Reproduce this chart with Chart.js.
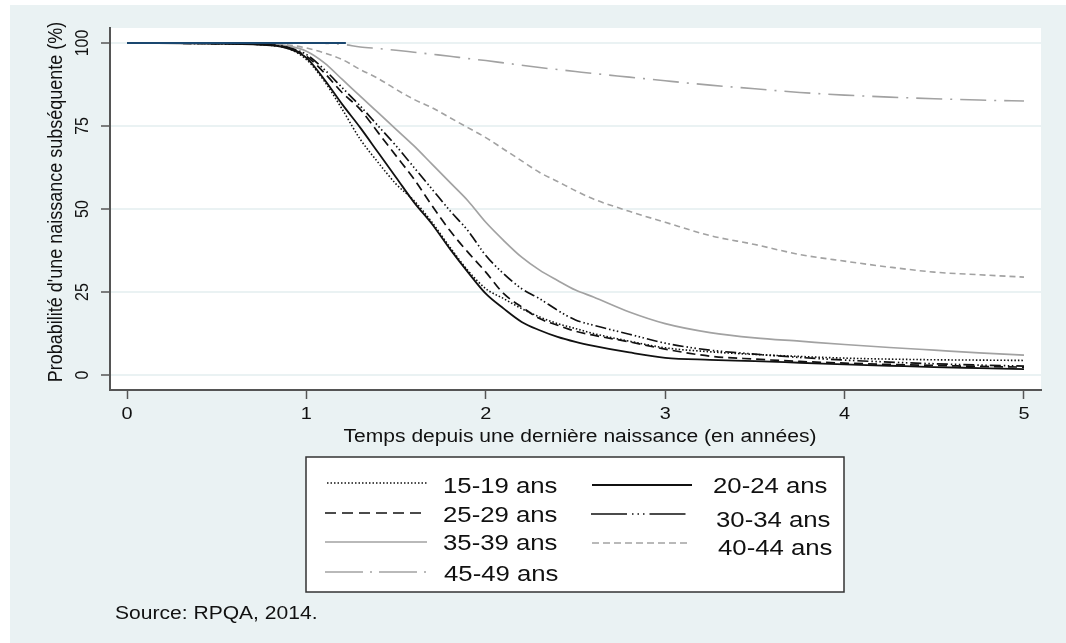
<!DOCTYPE html>
<html lang="fr">
<head>
<meta charset="utf-8">
<title>Probabilité d'une naissance subséquente</title>
<script src="https://cdn.jsdelivr.net/npm/chart.js"></script>
<style>
  html, body { margin: 0; padding: 0; background: #fff; }
  canvas { display: block; }
</style>
</head>
<body>
<canvas id="survie" width="1066" height="643"></canvas>
<script>
/* === Données : courbes de survie par groupe d'âge === */
// temps depuis la dernière naissance (en années)
const temps = [0, 0.5, 0.8, 0.9, 1.0, 1.1, 1.2, 1.3, 1.4, 1.5, 1.6, 1.7, 1.8, 1.9, 2.0, 2.1,
  2.2, 2.3, 2.4, 2.5, 2.6, 2.8, 3.0, 3.25, 3.5, 3.75, 4.0, 4.25, 4.5, 4.75, 5.0];

const ans15_19 = [100, 99.8, 99.3, 98.3, 95, 88.5, 80, 71, 64, 57.5, 52.5, 46, 38.5, 31.5, 26, 23,
  20, 17.5, 15.5, 14, 12.5, 10.2, 8.2, 7, 6.2, 5.6, 5.1, 4.8, 4.6, 4.5, 4.4];
const ans20_24 = [100, 99.8, 99.3, 98.3, 95.5, 89, 81.5, 74.5, 67, 59.5, 52, 45.5, 38, 31, 24.5, 20,
  16, 13.5, 11.5, 10, 8.8, 6.8, 5.2, 4.6, 4.2, 3.7, 3.2, 2.8, 2.4, 2.1, 1.8];
const ans25_29 = [100, 99.8, 99.4, 98.5, 96, 91, 85, 80, 73, 66, 59, 51, 43.5, 37, 31, 24.5,
  20.5, 17, 15, 13.2, 12, 10, 7.8, 5.7, 4.8, 4.1, 3.6, 3.2, 2.9, 2.6, 2.4];
const ans30_34 = [100, 99.8, 99.4, 98.6, 96.5, 92, 86.5, 81, 75, 69, 62.5, 56, 49.5, 43.5, 36, 30.5,
  26, 23, 19.5, 16.6, 15, 12.3, 9.6, 7.5, 6.3, 5.3, 4.5, 3.9, 3.4, 3.0, 2.7];
const ans35_39 = [100, 99.9, 99.6, 99.1, 97.5, 94, 89, 84, 79, 74, 69, 63.5, 58, 52.5, 46, 40.5,
  35.5, 31.6, 28.5, 25.6, 23.5, 19, 15.5, 12.8, 11.2, 10.2, 9.2, 8.3, 7.5, 6.7, 6.0];
const ans40_44 = [100, 100, 99.8, 99.4, 98.5, 97, 95, 92, 89.3, 86, 83, 80.5, 77.5, 74.5, 71.5, 68,
  64.5, 61, 58.3, 55.5, 53, 49.3, 46, 42, 39.3, 36.3, 34.3, 32.5, 31.0, 30.2, 29.5];
const ans45_49 = [100, 100, 100, 100, 100, 99.9, 99.6, 98.8, 98.3, 97.8, 97.2, 96.6, 96, 95.3, 94.7, 94.0,
  93.3, 92.6, 92, 91.4, 90.8, 89.7, 88.6, 87.3, 86.2, 85.1, 84.3, 83.7, 83.2, 82.8, 82.5];

// petit trait bleu à 100 %
const tempsBleu = [0, 1.22];
const valeursBleu = [100, 100];

const groupes = ["15-19 ans", "20-24 ans", "25-29 ans", "30-34 ans",
  "35-39 ans", "40-44 ans", "45-49 ans"];
const xTicks = [0, 1, 2, 3, 4, 5];
const yTicks = [0, 25, 50, 75, 100];

/* === Styles de ligne (dash = courbe, ldash = échantillon de légende) === */
const GRIS = "#a2a2a2";
const styles = [
  { color: "#111", width: 1.6, dash: [1.5, 2], ldash: [1.5, 2] },                   // 15-19
  { color: "#111", width: 1.8, dash: [], ldash: [] },                                // 20-24
  { color: "#111", width: 1.7, dash: [9, 5], ldash: [11, 6] },                      // 25-29
  { color: "#111", width: 1.7, dash: [11, 3, 1.5, 2.5, 1.5, 2.5, 1.5, 3],
    ldash: [36, 5, 1.5, 4, 1.5, 4, 1.5, 5] },                                        // 30-34
  { color: GRIS, width: 1.7, dash: [], ldash: [] },                                  // 35-39
  { color: GRIS, width: 1.6, dash: [6, 4], ldash: [7, 4] },                          // 40-44
  { color: GRIS, width: 1.6, dash: [26, 8, 2, 8], ldash: [38, 7, 2, 7] }            // 45-49
];
const series = [ans15_19, ans20_24, ans25_29, ans30_34, ans35_39, ans40_44, ans45_49];

const datasets = [{
  label: "",
  data: tempsBleu.map((t, i) => ({ x: t, y: valeursBleu[i] })),
  borderColor: "#1a476f",
  borderWidth: 2,
  pointRadius: 0
}];
series.forEach((vals, k) => {
  datasets.push({
    label: groupes[k],
    data: temps.map((t, i) => ({ x: t, y: vals[i] })),
    borderColor: styles[k].color,
    borderWidth: styles[k].width,
    borderDash: styles[k].dash,
    pointRadius: 0,
    cubicInterpolationMode: "monotone"
  });
});

/* === Texte étiré horizontalement (rendu Stata) === */
const SX = 1.17;
function texte(ctx, str, x, y, size, align, vertical) {
  ctx.save();
  ctx.translate(x, y);
  ctx.scale(SX, 1);
  if (vertical) ctx.rotate(-Math.PI / 2);
  ctx.font = size + "px 'Liberation Sans', Arial, sans-serif";
  ctx.fillStyle = "#111";
  ctx.textAlign = align;
  ctx.textBaseline = "alphabetic";
  ctx.fillText(str, 0, 0);
  ctx.restore();
}

// positions de la légende (échantillon x1-x2 à yl, texte à tx/ty)
const legendPos = [
  { x1: 327, x2: 427, yl: 483, tx: 443, ty: 493 },
  { x1: 592, x2: 692, yl: 485, tx: 713, ty: 493 },
  { x1: 325, x2: 427, yl: 513, tx: 443, ty: 522 },
  { x1: 591, x2: 687, yl: 514, tx: 716, ty: 527 },
  { x1: 325, x2: 427, yl: 542, tx: 443, ty: 550 },
  { x1: 592, x2: 690, yl: 543, tx: 718, ty: 555 },
  { x1: 325, x2: 427, yl: 572, tx: 444, ty: 581 }
];

const decor = {
  id: "decor",
  beforeDraw(chart) {
    const ctx = chart.ctx, a = chart.chartArea;
    ctx.save();
    ctx.fillStyle = "#fff";
    ctx.fillRect(0, 0, chart.width, chart.height);
    ctx.fillStyle = "#eaf2f3";
    ctx.fillRect(10, 5, chart.width - 10, chart.height - 5);
    ctx.fillStyle = "#fff";
    ctx.fillRect(a.left, a.top, a.right - a.left, a.bottom - a.top);
    ctx.restore();
  },
  afterDraw(chart) {
    const ctx = chart.ctx;
    const sx = chart.scales.x, sy = chart.scales.y;

    // étiquettes des axes
    xTicks.forEach(v => texte(ctx, String(v), sx.getPixelForValue(v), 419, 17, "center"));
    yTicks.forEach(v => texte(ctx, String(v), 88, sy.getPixelForValue(v), 16, "center", true));
    texte(ctx, "Temps depuis une dernière naissance (en années)", 580, 442, 18, "center");
    texte(ctx, "Probabilité d'une naissance subséquente (%)", 62, 202, 18, "center", true);

    // légende
    ctx.save();
    ctx.fillStyle = "#fff";
    ctx.fillRect(306, 457, 538, 135);
    ctx.strokeStyle = "#333";
    ctx.lineWidth = 1.5;
    ctx.strokeRect(306, 457, 538, 135);
    ctx.restore();
    groupes.forEach((g, k) => {
      const p = legendPos[k], s = styles[k];
      ctx.save();
      ctx.strokeStyle = s.color;
      ctx.lineWidth = s.width;
      ctx.setLineDash(s.ldash);
      ctx.beginPath();
      ctx.moveTo(p.x1, p.yl);
      ctx.lineTo(p.x2, p.yl);
      ctx.stroke();
      ctx.restore();
      texte(ctx, g, p.tx, p.ty, 22, "left");
    });

    texte(ctx, "Source: RPQA, 2014.", 115, 619, 18, "left");
  }
};

new Chart(document.getElementById("survie"), {
  type: "line",
  data: { datasets },
  plugins: [decor],
  options: {
    responsive: false,
    animation: false,
    layout: { padding: { left: 0, top: 28, right: 25, bottom: 0 } },
    plugins: { legend: { display: false }, tooltip: { enabled: false } },
    scales: {
      x: {
        type: "linear",
        min: -0.0948,
        max: 5.0948,
        afterBuildTicks: (axis) => { axis.ticks = xTicks.map(v => ({ value: v })); },
        afterFit: (axis) => { axis.height = 643 - 390; },
        ticks: { display: false },
        grid: { drawOnChartArea: false, tickColor: "#555", tickLength: 9, tickWidth: 1.5 },
        border: { color: "#555", width: 2 }
      },
      y: {
        min: -4.5,
        max: 104.5,
        afterBuildTicks: (axis) => { axis.ticks = yTicks.map(v => ({ value: v })); },
        afterFit: (axis) => { axis.width = 110; },
        ticks: { display: false },
        grid: { color: "#eaf2f3", lineWidth: 2, tickColor: "#555", tickLength: 9, tickWidth: 1.5 },
        border: { color: "#555", width: 2 }
      }
    }
  }
});
</script>
</body>
</html>
